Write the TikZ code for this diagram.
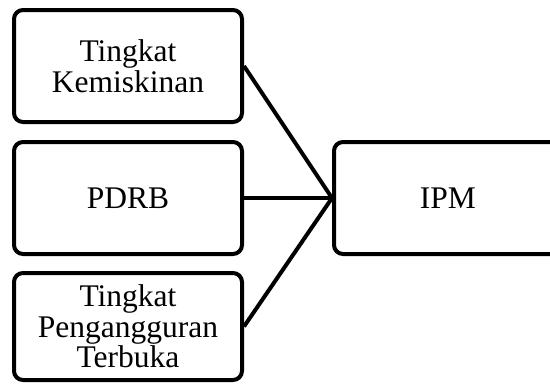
\documentclass[tikz,border=0pt]{standalone}
\usepackage{fontspec}
\setmainfont{Liberation Serif}
\begin{document}
\begin{tikzpicture}[x=1pt,y=-1pt,
  box/.style={draw, line width=4pt, rounded corners=9pt, align=center,
    font=\fontsize{31.5}{30.5}\selectfont, inner sep=0pt, minimum width=228pt},
  link/.style={line width=4pt}]
\useasboundingbox[fill=white] (0,0) rectangle (550,384);
\node[box, minimum height=112pt] (b1) at (128,66) {Tingkat\\Kemiskinan};
\node[box, minimum height=112pt] (b2) at (128,198) {PDRB};
\node[box, minimum height=107pt] (b3) at (128,326.5) {Tingkat\\Pengangguran\\Terbuka};
\node[box, minimum height=112pt] (ipm) at (448,198) {IPM};
\draw[link] (b1.east) -- (ipm.west);
\draw[link] (b2.east) -- (ipm.west);
\draw[link] (b3.east) -- (ipm.west);
\end{tikzpicture}
\end{document}
